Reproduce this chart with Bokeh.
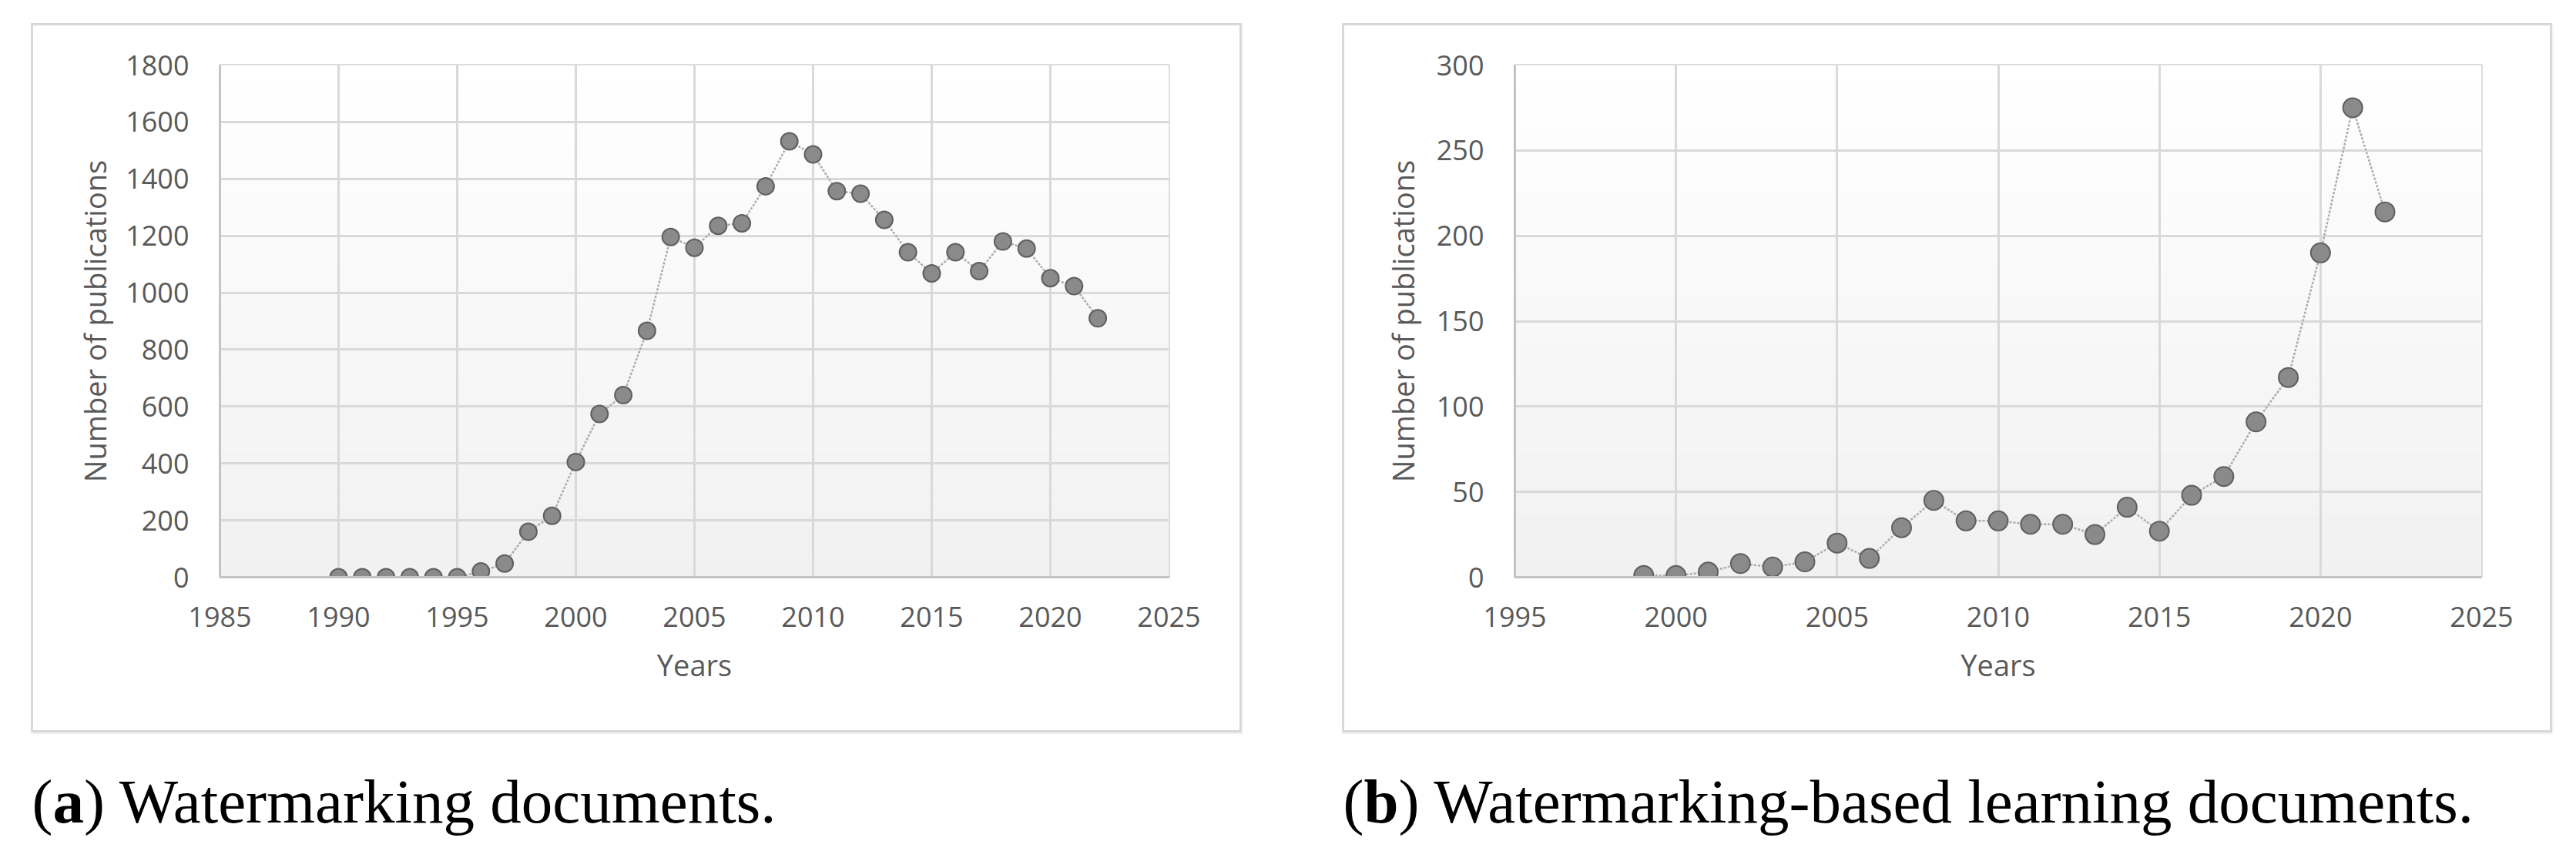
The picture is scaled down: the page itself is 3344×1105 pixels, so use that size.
from bokeh.plotting import figure
from bokeh.models import Range1d, FixedTicker, Spacer, Label
from bokeh.layouts import column, row
from bokeh.embed import file_html
from bokeh.resources import INLINE

# ---------------- data ----------------
years_a = list(range(1990, 2023))
pubs_a = [0, 0, 0, 0, 0, 0, 20, 48, 160, 216, 405, 574, 640, 866, 1196, 1158,
          1235, 1244, 1374, 1532, 1486, 1357, 1348, 1256, 1142, 1068, 1142,
          1076, 1180, 1155, 1051, 1023, 910]
xticks_a = [1985, 1990, 1995, 2000, 2005, 2010, 2015, 2020, 2025]
yticks_a = [0, 200, 400, 600, 800, 1000, 1200, 1400, 1600, 1800]

years_b = list(range(1999, 2023))
pubs_b = [1, 1, 3, 8, 6, 9, 20, 11, 29, 45, 33, 33, 31, 31, 25, 41, 27, 48,
          59, 91, 117, 190, 275, 214]
xticks_b = [1995, 2000, 2005, 2010, 2015, 2020, 2025]
yticks_b = [0, 50, 100, 150, 200, 250, 300]

x_title = "Years"
y_title = "Number of publications"

TXT = "#595959"
GRID = "#d9d9d9"
FONT = "Open Sans"


def make_panel(years, pubs, xticks, yticks, width, height, bl, br, bt, bb,
               msize, ytitle_standoff):
    xr = (xticks[0], xticks[-1])
    yr = (yticks[0], yticks[-1])
    p = figure(width=width, height=height, output_backend="svg",
               toolbar_location=None, x_range=Range1d(*xr), y_range=Range1d(*yr),
               min_border_left=bl, min_border_right=br, min_border_top=bt,
               min_border_bottom=bb)
    p.styles = {"border": "3px solid #d9d9d9", "box-sizing": "border-box",
                "box-shadow": "1px 2px 2px rgba(0,0,0,0.08)"}
    p.background_fill_color = "white"
    p.border_fill_color = "white"
    # soft vertical gradient of the plot area
    n = 48
    edges = [yr[0] + (yr[1] - yr[0]) * i / n for i in range(n + 1)]
    cols = []
    for i in range(n):
        t = i / (n - 1)
        c = int(round(241 + 14 * t))
        cols.append("#%02x%02x%02x" % (c, c, c))
    p.quad(left=xr[0], right=xr[1], bottom=edges[:-1], top=edges[1:],
           fill_color=cols, line_color=None, level="image")

    p.line(years, pubs, line_color="#ababab", line_width=2.5, line_dash="3 2")
    p.scatter(years, pubs, size=msize, marker="circle", fill_color="#8a8a8a",
              line_color="#5f5f5f", line_width=2)

    p.xaxis.ticker = FixedTicker(ticks=xticks)
    p.yaxis.ticker = FixedTicker(ticks=yticks)
    for g in (p.xgrid, p.ygrid):
        g.grid_line_color = GRID
        g.grid_line_width = 3
    p.outline_line_color = GRID
    p.outline_line_width = 3
    for ax in (p.xaxis, p.yaxis):
        ax.axis_line_color = "#c4c4c4"
        ax.axis_line_width = 3
        ax.major_tick_line_color = None
        ax.minor_tick_line_color = None
        ax.major_tick_out = 0
        ax.major_tick_in = 0
        ax.major_label_text_font = FONT
        ax.major_label_text_font_size = "36px"
        ax.major_label_text_color = TXT
        ax.axis_label_text_font = FONT
        ax.axis_label_text_font_size = "38px"
        ax.axis_label_text_font_style = "normal"
        ax.axis_label_text_color = TXT
    p.xaxis.major_label_standoff = 38
    p.yaxis.major_label_standoff = 40
    p.xaxis.axis_label_standoff = 20
    p.yaxis.axis_label_standoff = ytitle_standoff
    p.xaxis.axis_label = x_title
    p.yaxis.axis_label = y_title
    return p


pa = make_panel(years_a, pubs_a, xticks_a, yticks_a, 1572, 921, 242, 98, 50, 205, 22, 11)
pb = make_panel(years_b, pubs_b, xticks_b, yticks_b, 1571, 921, 221, 95, 51, 203, 25, 15)

CAP_H = 146
cap = figure(width=3312, height=CAP_H, output_backend="svg", toolbar_location=None,
             x_range=Range1d(0, 1), y_range=Range1d(0, 1), min_border=0)
cap.axis.visible = False
cap.grid.visible = False
cap.outline_line_color = None
cap.background_fill_color = None
cap.border_fill_color = None

SERIF = "Liberation Serif"
FSZ = 81
FS = "%dpx" % FSZ


def caption(x0, letter, rest, letter_em):
    paren_w = 0.333 * FSZ
    letter_w = letter_em * FSZ
    parts = [(x0, "(", "normal"), (x0 + paren_w, letter, "bold"),
             (x0 + paren_w + letter_w, rest, "normal")]
    for x, t, st in parts:
        cap.add_layout(Label(x=x, y=57, x_units="screen", y_units="screen", text=t,
                             text_font=SERIF, text_font_size=FS, text_font_style=st,
                             text_color="black", text_baseline="middle"))


caption(41, "a", ") Watermarking documents.", 0.5)
caption(1743, "b", ") Watermarking-based learning documents.", 0.556)

layout = column(Spacer(height=30),
                row(Spacer(width=40), pa, Spacer(width=130), pb),
                cap)

open("out.html", "w").write(file_html(layout, INLINE))
